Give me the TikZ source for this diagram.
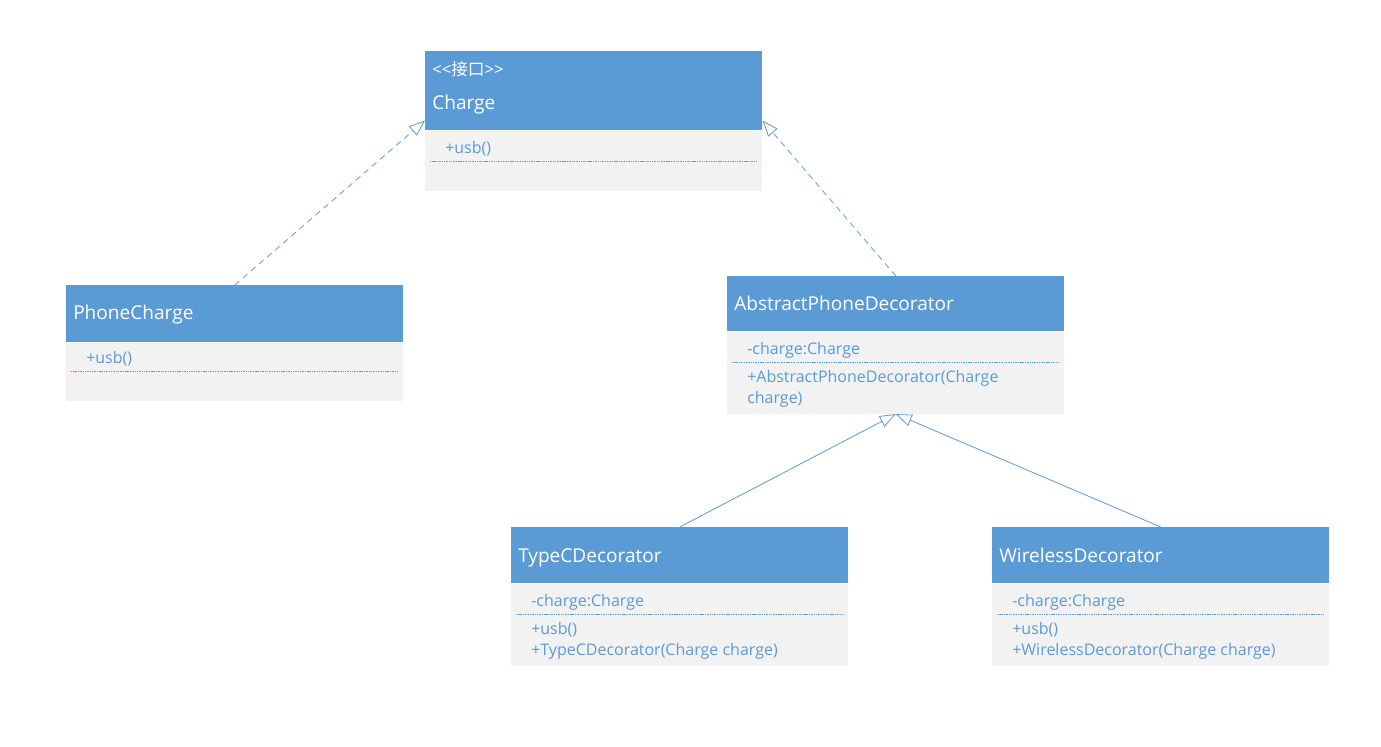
\documentclass[tikz,border=0pt]{standalone}
\usepackage{fontspec}
\setmainfont{Open Sans}
\newfontfamily\cjk{Noto Sans CJK SC}
\usetikzlibrary{positioning,arrows.meta}
\definecolor{umlblue}{HTML}{5B9BD5}
\definecolor{umlgray}{HTML}{F2F2F2}
\tikzset{
  headbox/.style={rectangle, fill=umlblue, minimum width=252.75pt, anchor=north west, inner sep=0pt},
  bodybox/.style={rectangle, fill=umlgray, minimum width=252.75pt, anchor=north west, inner sep=0pt},
  textline/.style={anchor=west, inner sep=0pt, text height=0.75em, text depth=0.25em},
  titletext/.style={textline, yshift=-3pt, text=white, font=\fontsize{14.3}{16}\selectfont},
  stereotext/.style={textline, yshift=-0.5pt, text=white, font=\fontsize{12.5}{14}\selectfont},
  membertext/.style={textline, yshift=-2.2pt, text=umlblue, font=\fontsize{12}{14}\selectfont},
  sepline/.style={draw=umlblue, line width=0.5pt, dash pattern=on 0.8pt off 0.5pt},
  realize/.style={-{Triangle[open, length=12pt, width=9pt]}, umlblue, line width=0.6pt, dash pattern=on 4.5pt off 3.5pt},
  inherit/.style={-{Triangle[open, length=12pt, width=9pt]}, umlblue, line width=0.6pt}
}
\begin{document}
\begin{tikzpicture}[x=0.75pt, y=-0.75pt]
\useasboundingbox (0,0) rectangle (1381,746);
\node[headbox, minimum height=59.25pt] (chargehead) at (425,51) {};
\node[bodybox, minimum height=45pt] (chargebody) at (chargehead.south west) {};
\node[stereotext] (chargestereo) at (432,71) {{<}{<}{\cjk 接口}{>}{>}};
\node[titletext] (chargetitle) at (432,102) {Charge};
\node[membertext] (chargeop) at (445,147) {+usb()};
\draw[sepline] (430,161) -- (757,161);
\node[headbox, minimum height=42.75pt] (phonehead) at (66,285) {};
\node[bodybox, minimum height=43.5pt] (phonebody) at (phonehead.south west) {};
\node[titletext] (phonetitle) at (73,312) {PhoneCharge};
\node[membertext] (phoneop) at (86,357) {+usb()};
\draw[sepline] (71,371) -- (398,371);
\node[headbox, minimum height=41.25pt] (absthead) at (727,276) {};
\node[bodybox, minimum height=61.5pt] (abstbody) at (absthead.south west) {};
\node[titletext] (absttitle) at (734,303) {AbstractPhoneDecorator};
\node[membertext] (abstattr) at (747,348) {-charge:Charge};
\draw[sepline] (732,362) -- (1059,362);
\node[membertext] (abstop) at (747,376) {+AbstractPhoneDecorator(Charge};
\node[membertext] (abstopb) at (747,397) {charge)};
\node[headbox, minimum height=42pt] (typechead) at (511,527) {};
\node[bodybox, minimum height=61.5pt] (typecbody) at (typechead.south west) {};
\node[titletext] (typectitle) at (518,555) {TypeCDecorator};
\node[membertext] (typecattr) at (531,600) {-charge:Charge};
\draw[sepline] (516,614) -- (843,614);
\node[membertext] (typecop) at (531,628) {+usb()};
\node[membertext] (typecctor) at (531,649) {+TypeCDecorator(Charge charge)};
\node[headbox, minimum height=42pt] (wirehead) at (992,527) {};
\node[bodybox, minimum height=61.5pt] (wirebody) at (wirehead.south west) {};
\node[titletext] (wiretitle) at (999,555) {WirelessDecorator};
\node[membertext] (wireattr) at (1012,600) {-charge:Charge};
\draw[sepline] (997,614) -- (1324,614);
\node[membertext] (wireop) at (1012,628) {+usb()};
\node[membertext] (wirector) at (1012,649) {+WirelessDecorator(Charge charge)};
\draw[realize] (phonehead.north) -- ([yshift=7.5pt]chargehead.south west);
\draw[realize] (absthead.north) -- ([yshift=7.5pt]chargehead.south east);
\draw[inherit] (typechead.north) -- (abstbody.south);
\draw[inherit] (wirehead.north) -- (abstbody.south);
\end{tikzpicture}
\end{document}
